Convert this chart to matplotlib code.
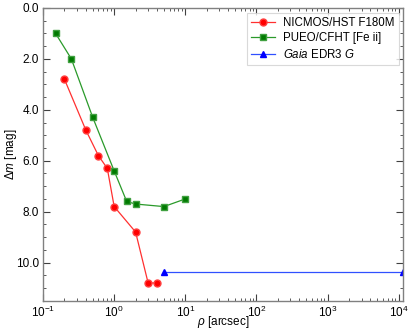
import matplotlib
matplotlib.use("Agg")
import matplotlib.pyplot as plt
from matplotlib.ticker import MultipleLocator, FormatStrFormatter, LogLocator

plt.rcParams['font.family'] = ['Liberation Sans', 'DejaVu Sans']
plt.rcParams['mathtext.fontset'] = 'custom'
plt.rcParams['mathtext.rm'] = 'Liberation Sans'
plt.rcParams['mathtext.it'] = 'Liberation Sans:italic'

nic_rho = [0.2, 0.4, 0.6, 0.8, 1.0, 2.0, 3.0, 4.0]
nic_dm = [2.8, 4.8, 5.8, 6.3, 7.8, 8.8, 10.8, 10.8]
pueo_rho = [0.15, 0.25, 0.5, 1.0, 1.5, 2.0, 5.0, 10.0]
pueo_dm = [1.0, 2.0, 4.3, 6.4, 7.6, 7.7, 7.8, 7.5]
gaia_rho = [5.0, 1.15e4]
gaia_dm = [10.35, 10.35]

labels = ["NICMOS/HST F180M", "PUEO/CFHT [Fe ii]", r"$\mathit{Gaia}$ EDR3 $\mathit{G}$"]

fig = plt.figure(figsize=(4.1, 3.32), dpi=100)
ax = fig.add_axes([0.105, 0.094, 0.878, 0.882])

ax.plot(nic_rho, nic_dm, '-o', color='#ff3030', mfc='red', mec='#ff4040',
        ms=5, lw=0.9, label=labels[0])
ax.plot(pueo_rho, pueo_dm, '-s', color='#2a9a2a', mfc='#007a00', mec='#40a040',
        ms=5, lw=0.9, label=labels[1])
ax.plot(gaia_rho, gaia_dm, '-^', color='#3050ff', mfc='blue', mec='blue',
        ms=5, lw=0.9, label=labels[2])

ax.set_xscale('log')
ax.set_xlim(0.1, 1.15e4)
ax.set_ylim(11.5, 0.0)
ax.yaxis.set_major_locator(MultipleLocator(2.0))
ax.yaxis.set_minor_locator(MultipleLocator(0.5))
ax.yaxis.set_major_formatter(FormatStrFormatter('%.1f'))
ax.xaxis.set_major_locator(LogLocator(base=10, numticks=20))
ax.xaxis.set_minor_locator(LogLocator(base=10, subs=range(2, 10), numticks=50))

for s in ax.spines.values():
    s.set_color('#808080')
    s.set_linewidth(1.0)
ax.tick_params(which='both', direction='in', top=True, right=True,
               color='#404040', labelsize=8.5, pad=3)
ax.tick_params(which='major', length=5, width=0.8)
ax.tick_params(which='minor', length=2.5, width=0.6)

ax.set_xlabel(r"$\mathit{\rho}$ [arcsec]", fontsize=8.5, va='center')
ax.set_ylabel(r"$\Delta\mathit{m}$ [mag]", fontsize=8.5, va='center')
ax.xaxis.set_label_coords(0.5, -0.072)
ax.yaxis.set_label_coords(-0.09, 0.5)

leg = ax.legend(loc='upper right', bbox_to_anchor=(399 / 410, 1 - 13 / 332),
                bbox_transform=fig.transFigure, borderaxespad=0,
                fontsize=8.3, frameon=True, fancybox=False,
                edgecolor='#d0d0d0', handlelength=2.1, handletextpad=0.7,
                borderpad=0.35, labelspacing=0.3)
leg.get_frame().set_linewidth(0.8)

fig.savefig("out.png", dpi=100)
